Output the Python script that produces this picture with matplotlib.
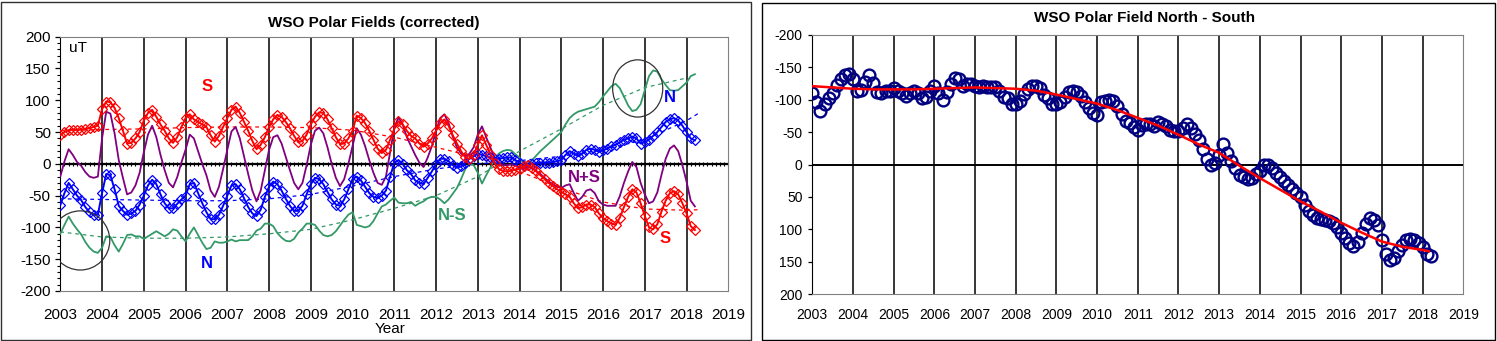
import numpy as np
import matplotlib
matplotlib.use("Agg")
import matplotlib.pyplot as plt
from matplotlib.patches import Ellipse, Rectangle
from matplotlib.ticker import MultipleLocator, NullFormatter

plt.rcParams['font.family'] = ['Liberation Sans', 'DejaVu Sans']
plt.rcParams['axes.unicode_minus'] = False

# ---------------------------------------------------------------------------
# Polar field strengths (microtesla), sampled every 0.1 year from 2003.0
# ---------------------------------------------------------------------------
START_YEAR = 2003.0
STEP = 0.1

south = [
    45, 50, 53, 54, 53, 54, 55, 56, 58, 60,          # 2003
    86, 98, 97, 88, 72, 52, 32, 33, 40, 50,          # 2004
    68, 80, 85, 74, 62, 52, 40, 33, 42, 58,          # 2005
    72, 78, 70, 66, 62, 58, 45, 35, 44, 58,          # 2006
    72, 85, 90, 80, 66, 52, 36, 23, 30, 42,          # 2007
    58, 70, 77, 74, 66, 56, 44, 34, 36, 46,          # 2008
    62, 74, 81, 80, 70, 56, 42, 31, 32, 40,          # 2009
    52, 76, 72, 64, 52, 38, 24, 17, 22, 38,          # 2010
    55, 67, 62, 52, 44, 40, 32, 27, 32, 40,          # 2011
    52, 64, 70, 60, 45, 32, 20, 10, 8, 14,           # 2012
    30, 45, 30, 16, 2, -8, -11, -12, -11, -9,        # 2013
    -8, -4, -2, -6, -12, -18, -24, -30, -35, -40,    # 2014
    -44, -48, -52, -62, -70, -68, -64, -64, -68, -78,  # 2015
    -85, -90, -94, -96, -85, -68, -52, -40, -45, -62,  # 2016
    -82, -100, -103, -95, -75, -58, -46, -43, -48, -62,  # 2017
    -78, -98, -104,                                  # 2018
]

north = [
    -65, -46, -30, -40, -50, -57, -68, -76, -80, -80,  # 2003
    -46, -16, -18, -40, -66, -74, -80, -78, -74, -64,  # 2004
    -50, -34, -25, -32, -48, -62, -70, -70, -63, -56,  # 2005
    -50, -32, -30, -46, -62, -76, -87, -87, -80, -66,  # 2006
    -50, -34, -32, -40, -54, -68, -78, -82, -72, -52,  # 2007
    -36, -28, -32, -42, -55, -66, -74, -74, -66, -48,  # 2008
    -32, -22, -24, -32, -44, -56, -64, -66, -56, -40,  # 2009
    -24, -20, -26, -36, -46, -52, -54, -50, -42, -20,  # 2010
    2, 6, 0, -10, -16, -26, -30, -32, -22, -12,      # 2011
    0, 8, 8, 4, -2, -6, -4, 2, 8, 12,                # 2012
    16, 14, 12, 10, 8, 8, 9, 10, 10, 6,              # 2013
    2, -4, -2, 0, 1, 2, 2, 2, 3, 4,                  # 2014
    6, 14, 20, 16, 12, 16, 22, 24, 22, 19,           # 2015
    21, 24, 28, 30, 34, 38, 40, 43, 40, 32,          # 2016
    34, 38, 44, 50, 58, 66, 70, 72, 68, 60,          # 2017
    50, 40, 37,                                      # 2018
]

# Long-term trend curves drawn as dashed lines on the left panel
trend_years = [2003, 2004, 2005, 2006, 2007, 2008, 2009, 2010, 2011,
               2012, 2013, 2014, 2015, 2016, 2017, 2018, 2018.3]
south_trend = [52, 54, 55, 57, 58, 58, 57, 53, 42, 26, 10, -12, -38, -60,
               -71, -73, -72]
north_trend = [-55, -56, -57, -58, -58, -55, -48, -35, -20, -8, 0, 5, 12,
               22, 38, 68, 80]

diff_trend_years = [2003, 2004, 2005, 2006, 2007, 2008, 2009, 2010, 2011,
                    2012, 2013, 2014, 2015, 2016, 2017, 2018]
diff_trend = [-107, -115, -117, -117, -115, -110, -103, -88, -70, -50, -20,
              20, 55, 92, 120, 135]

# Smooth fit of North - South shown on the right panel
fit_years = [2003.0, 2003.5, 2004.0, 2004.5, 2005.0, 2005.5, 2006.0, 2006.5,
             2007.0, 2007.5, 2008.0, 2008.5, 2009.0, 2009.5, 2010.0, 2010.5,
             2011.0, 2011.5, 2012.0, 2012.5, 2013.0, 2013.5, 2014.0, 2014.5,
             2015.0, 2015.5, 2016.0, 2016.5, 2017.0, 2017.5, 2018.0, 2018.15]
fit_values = [-121, -119, -117, -116, -116, -116, -117, -118, -119, -118,
              -117, -114, -108, -101, -94, -84, -72, -60, -46, -31, -18, 2,
              21, 39, 57, 73, 90, 105, 119, 127, 132, 134]

year_ticks = list(range(2003, 2020))
field_ticks = list(range(-200, 201, 50))

# Derived series
years = np.round(START_YEAR + STEP * np.arange(len(south)), 2)
south_a = np.array(south, dtype=float)
north_a = np.array(north, dtype=float)
n_plus_s = north_a + south_a
n_minus_s = north_a - south_a

RED = '#FF0000'
BLUE = '#0000FF'
GREEN = '#339966'
PURPLE = '#800080'
NAVY = '#000080'
FRAME = '#808080'

W, H = 1497, 341
fig = plt.figure(figsize=(W / 100, H / 100), dpi=100)


def box(x0, y0, x1, y1):
    """Pixel box (top-left origin) to figure fraction rectangle."""
    return [x0 / W, 1 - y1 / H, (x1 - x0) / W, (y1 - y0) / H]


# Panel borders
fig.add_artist(Rectangle((1.5 / W, 1 - 339.5 / H), 750 / W, 338 / H,
                         transform=fig.transFigure, fill=False,
                         ec='#303030', lw=1.0))
fig.add_artist(Rectangle((761.5 / W, 1 - 339.5 / H), 733 / W, 337 / H,
                         transform=fig.transFigure, fill=False,
                         ec='#000000', lw=1.0))

# ---------------------------------------------------------------------------
# Left panel: polar fields
# ---------------------------------------------------------------------------
ax1 = fig.add_axes(box(60.3, 36.7, 728.3, 291.0))
ax1.set_xlim(2003, 2019)
ax1.set_ylim(-200, 200)

for yr in year_ticks[1:-1]:
    ax1.axvline(yr, color='black', lw=1.1, zorder=1)
ax1.axhline(0, color='black', lw=1.6, zorder=1)

# Year ticks along the zero line
zero_axis = ax1.secondary_xaxis(0.5)
zero_axis.set_xticks(year_ticks)
zero_axis.xaxis.set_minor_locator(MultipleLocator(0.1))
zero_axis.xaxis.set_major_formatter(NullFormatter())
zero_axis.xaxis.set_minor_formatter(NullFormatter())
zero_axis.tick_params(which='both', direction='inout', labelbottom=False,
                      labeltop=False, length=3, width=0.8, color='black')
for sp in zero_axis.spines.values():
    sp.set_visible(False)

ax1.set_xticks(year_ticks)
ax1.set_xticklabels([str(y) for y in year_ticks])
ax1.tick_params(axis='x', length=0, pad=12, labelsize=11)
ax1.set_yticks(field_ticks)
ax1.set_yticklabels([str(v) for v in field_ticks])
ax1.yaxis.set_minor_locator(MultipleLocator(10))
ax1.tick_params(axis='y', which='major', direction='out', length=3.8,
                width=0.9, pad=3, labelsize=11)
ax1.tick_params(axis='y', which='minor', direction='out', length=2.2,
                width=0.8)
for side in ('top', 'right', 'bottom'):
    ax1.spines[side].set_color(FRAME)
ax1.spines['left'].set_color('black')

dash = (0, (3, 3))
ax1.plot(trend_years, south_trend, color=RED, lw=0.9, ls=dash, zorder=2)
ax1.plot(trend_years, north_trend, color=BLUE, lw=0.9, ls=dash, zorder=2)
ax1.plot(diff_trend_years, diff_trend, color=GREEN, lw=0.9, ls=dash, zorder=2)

ax1.plot(years, n_minus_s, color=GREEN, lw=1.3, zorder=3)
ax1.plot(years, n_plus_s, color=PURPLE, lw=1.3, zorder=3)
ax1.plot(years, north_a, color=BLUE, lw=1.4, marker='D', ms=5.5,
         mfc='none', mec=BLUE, mew=0.9, zorder=4)
ax1.plot(years, south_a, color=RED, lw=1.4, marker='D', ms=5.5,
         mfc='none', mec=RED, mew=0.9, zorder=5)

label_kw = dict(fontsize=12, fontweight='bold', ha='center', va='center',
                zorder=6)
ax1.text(2003.42, 182, 'uT', fontsize=11, ha='center', va='center')
ax1.text(2006.51, 121, 'S', color=RED, **label_kw)
ax1.text(2006.51, -157, 'N', color=BLUE, **label_kw)
ax1.text(2012.39, -82, 'N-S', color=GREEN, **label_kw)
ax1.text(2015.55, -22, 'N+S', color=PURPLE, **label_kw)
ax1.text(2017.49, -118, 'S', color=RED, **label_kw)
ax1.text(2017.59, 104, 'N', color=BLUE, **label_kw)

ax1.add_patch(Ellipse((2003.48, -120.5), 1.41, 93, fill=False,
                      ec='#333333', lw=0.9, zorder=6))
ax1.add_patch(Ellipse((2016.83, 118.6), 1.2, 90, fill=False,
                      ec='#333333', lw=0.9, zorder=6))

fig.text(374 / W, 1 - 22.5 / H, 'WSO Polar Fields (corrected)',
         fontsize=11, fontweight='bold', ha='center', va='center')
fig.text(390 / W, 1 - 329 / H, 'Year', fontsize=11, ha='center',
         va='center')

# ---------------------------------------------------------------------------
# Right panel: North - South difference
# ---------------------------------------------------------------------------
ax2 = fig.add_axes(box(812.3, 35.0, 1463.3, 294.0))
ax2.set_xlim(2003, 2019)
ax2.set_ylim(200, -200)

for yr in year_ticks[1:-1]:
    ax2.axvline(yr, color='black', lw=1.1, zorder=1)
ax2.axhline(0, color='black', lw=1.4, zorder=1)

ax2.set_xticks(year_ticks)
ax2.set_xticklabels([str(y) for y in year_ticks])
ax2.tick_params(axis='x', length=0, pad=10, labelsize=10)
ax2.set_yticks(field_ticks)
ax2.set_yticklabels([str(v) for v in field_ticks])
ax2.tick_params(axis='y', direction='out', length=3, width=0.9, pad=4,
                labelsize=10)
for side in ('top', 'right', 'bottom'):
    ax2.spines[side].set_color(FRAME)
ax2.spines['left'].set_color('black')

ax2.plot(years, n_minus_s, ls='none', marker='o', ms=8.5, mfc='none',
         mec=NAVY, mew=1.7, zorder=3)
ax2.plot(fit_years, fit_values, color=RED, lw=1.8, zorder=4)

fig.text(1144.6 / W, 1 - 18 / H, 'WSO Polar Field North - South',
         fontsize=11, fontweight='bold', ha='center', va='center')

fig.savefig('out.png', dpi=100)
